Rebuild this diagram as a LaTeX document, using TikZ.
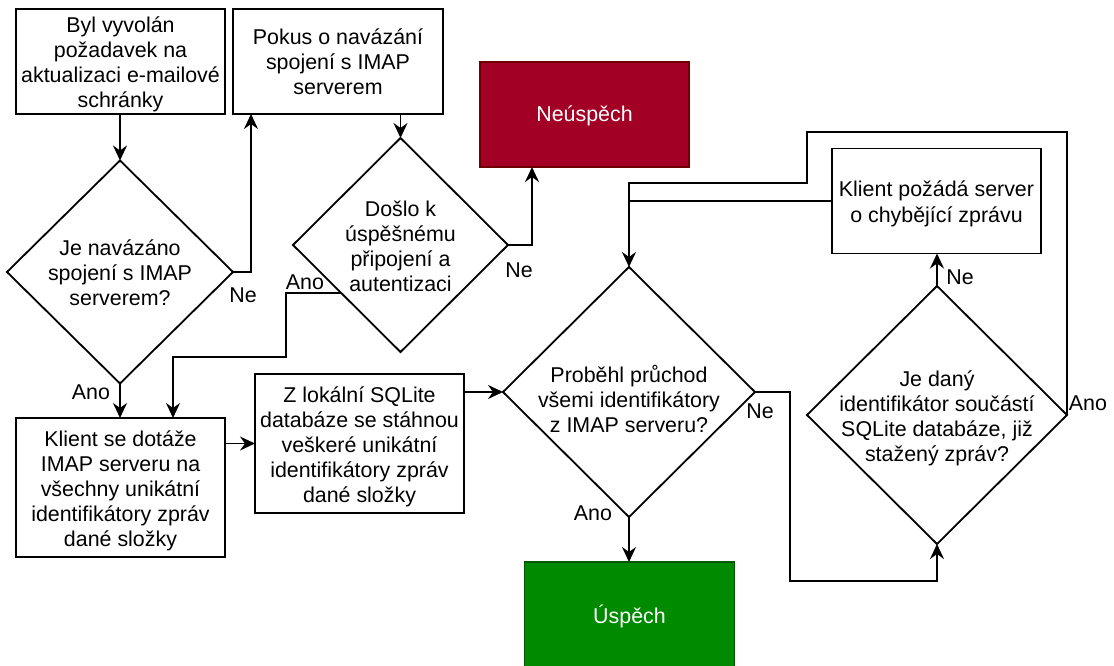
\documentclass[tikz,border=0pt]{standalone}
\usepackage{fontspec}
\setmainfont{Liberation Sans}
\usetikzlibrary{shapes.geometric,arrows.meta,calc}

\definecolor{crimsonfill}{HTML}{A20025}
\definecolor{crimsonline}{HTML}{6F0000}
\definecolor{greenfill}{HTML}{008A00}
\definecolor{greenline}{HTML}{005700}

\newcommand{\ctext}[2][3.5pt]{\raisebox{-#1}[\height][\depth]{\makebox[0pt]{\begin{tabular}{@{}c@{}}#2\end{tabular}}}}

\begin{document}
\begin{tikzpicture}[x=1pt,y=-1pt,line width=1.8pt,
  font=\fontsize{21.4}{25}\selectfont,
  box/.style={draw,rectangle,inner sep=0pt,outer sep=0pt,minimum width=209pt,minimum height=105pt},
  dec/.style={draw,diamond,inner sep=0pt,outer sep=0pt},
  arr/.style={-{Stealth[length=15pt,width=14pt,inset=5pt]}},
  lbl/.style={inner sep=0pt}]
  \useasboundingbox (0,0) rectangle (1114,666);

  % Bloky
  \node[box] (b1) at (120.5,61.5) {\ctext{Byl vyvolán\\požadavek na\\aktualizaci e-mailové\\schránky}};
  \node[box,minimum width=210pt] (b2) at (338,61.5) {\ctext{Pokus o navázání\\spojení s IMAP\\serverem}};
  \node[box,minimum height=139pt] (b3) at (120.5,487.5) {\ctext{Klient se dotáže\\IMAP serveru na\\všechny unikátní\\identifikátory zpráv\\dané složky}};
  \node[box,minimum height=139pt] (b4) at (359.5,443.5) {\ctext{Z lokální SQLite\\databáze se stáhnou\\veškeré unikátní\\identifikátory zpráv\\dané složky}};
  \node[box] (b5) at (936.5,201) {\ctext{Klient požádá server\\o chybějící zprávu}};
  \node[box,fill=crimsonfill,draw=crimsonline,text=white] (ne) at (584.5,114.5) {\ctext[2pt]{Neúspěch}};
  \node[box,minimum width=210pt,fill=greenfill,draw=greenline,text=white] (us) at (629.5,614.5) {\ctext{Úspěch}};

  % Rozhodnuti
  \node[dec,minimum width=226pt,minimum height=223pt] (d1) at (120,272) {\ctext{Je navázáno\\spojení s IMAP\\serverem?}};
  \node[dec,minimum width=215pt,minimum height=214pt] (d2) at (400.5,245) {\ctext{Došlo k\\úspěšnému\\připojení a\\autentizaci}};
  \node[dec,minimum width=252pt,minimum height=250pt] (d3) at (629,392) {\ctext[10pt]{Proběhl průchod\\všemi identifikátory\\z IMAP serveru?}};
  \node[dec,minimum width=260pt,minimum height=258pt] (d4) at (937,415) {\ctext{Je daný\\identifikátor součástí\\SQLite databáze, již\\stažený zpráv?}};

  % Body zlomu
  \coordinate (k1) at (251,272);
  \coordinate (k2) at (532,245);
  \coordinate (d2a) at ($(d2.west)!0.45!(d2.south)$);
  \coordinate (k3) at (286,357);
  \coordinate (k4) at (173,357);
  \coordinate (k5) at (790,581);
  \coordinate (k6) at (807,132);
  \coordinate (k7) at (629,183);

  % Spojnice
  \draw[arr] (d1.north |- b1.south) -- (d1.north);
  \draw[arr] (d1.east) -- (k1) -- (k1 |- b2.south);
  \draw[arr] (d2.north |- b2.south) -- (d2.north);
  \draw[arr] (d2.east) -- (k2) -- (k2 |- ne.south);
  \draw[arr] (d2a) -- (d2a -| k3) -- (k3) -- (k4) -- (k4 |- b3.north);
  \draw[arr] (d1.south) -- (d1.south |- b3.north);
  \draw[arr] (b3.east |- b4.west) -- (b4.west);
  \draw[arr] (b4.east |- d3.west) -- (d3.west);
  \draw[arr] (d3.south) -- (d3.south |- us.north);
  \draw[arr] (d3.east) -| (k5) -| (d4.south);
  \draw[arr] (d4.north) -- (d4.north |- b5.south);
  \draw[arr] (d4.east) |- (k6) -- (k6 |- k7) -- (k7) -- (d3.north);
  \draw (b5.west) -- (b5.west -| d3.north);

  % Popisky
  \node[lbl] (l1) at (243,295) {Ne};
  \node[lbl] (l2) at (519,270) {Ne};
  \node[lbl] (l3) at (305,282) {Ano};
  \node[lbl] (l4) at (91,392) {Ano};
  \node[lbl] (l5) at (760,411) {Ne};
  \node[lbl] (l6) at (593,513) {Ano};
  \node[lbl] (l7) at (960,277) {Ne};
  \node[lbl] (l8) at (1088,403) {Ano};
\end{tikzpicture}
\end{document}
